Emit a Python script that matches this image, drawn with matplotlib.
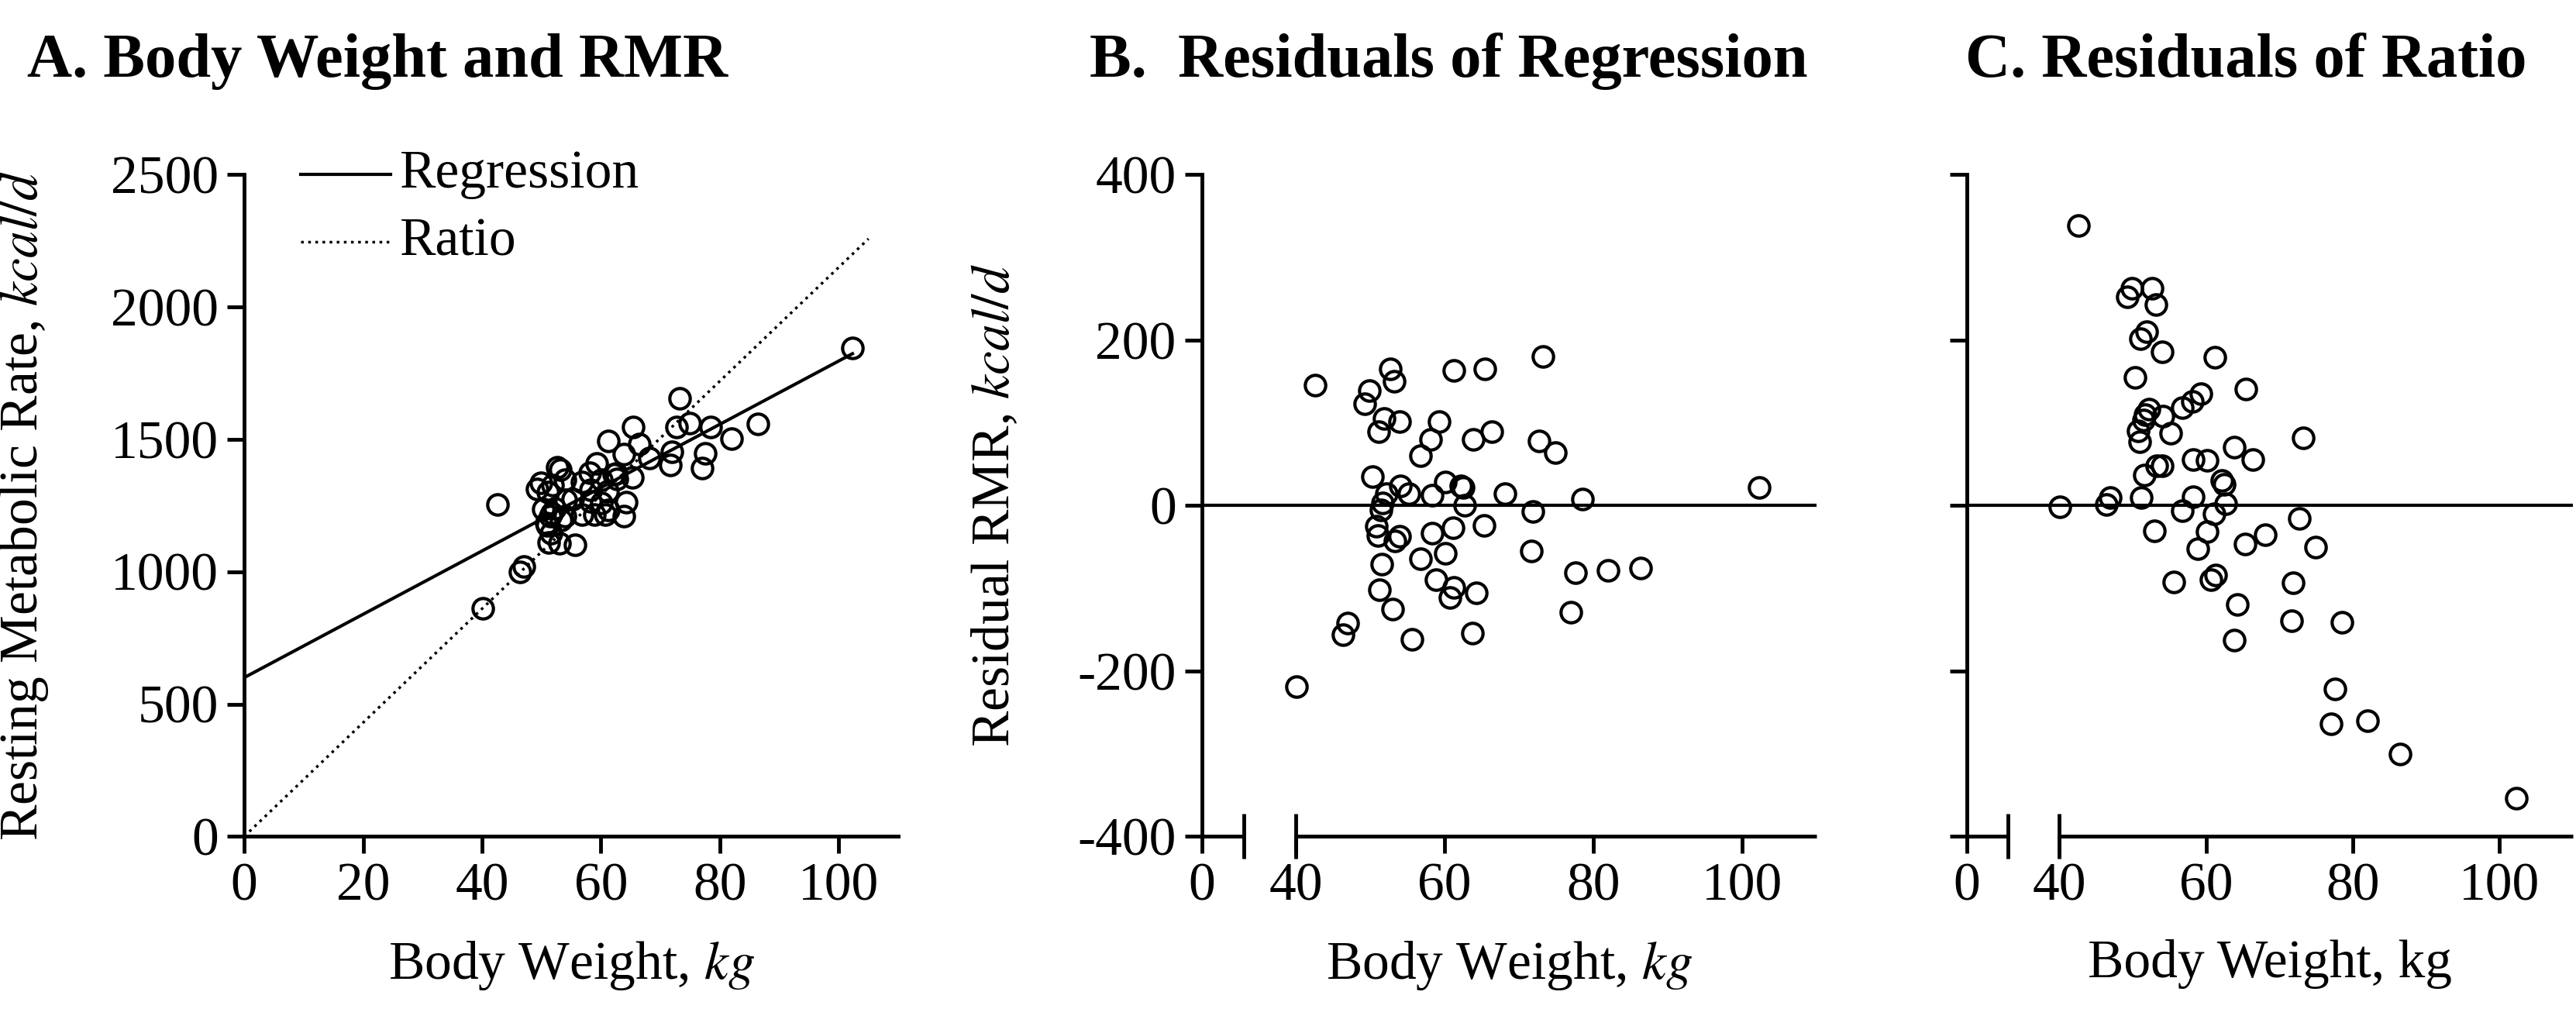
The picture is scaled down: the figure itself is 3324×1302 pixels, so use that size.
import matplotlib
matplotlib.use("Agg")
import matplotlib.pyplot as plt
import numpy as np

plt.rcParams['font.family'] = ['Liberation Serif', 'DejaVu Serif']
plt.rcParams['mathtext.fontset'] = 'stix'
plt.rcParams['axes.unicode_minus'] = False

# body weight (kg) and residual from regression (kcal/d)
weight = np.array([40.1, 42.6, 46.4, 47.0, 49.3, 49.9, 50.3, 51.1, 51.9, 51.2,
                   51.6, 50.8, 51.0, 51.5, 51.7, 52.2, 52.7, 53.2, 54.0, 53.0,
                   53.3, 54.0, 54.1, 55.2, 55.6, 56.8, 56.8, 58.1, 58.3, 58.3,
                   59.3, 58.9, 60.1, 61.2, 61.1, 60.1, 61.3, 60.7, 62.2, 62.5,
                   62.7, 63.9, 64.3, 63.8, 65.4, 65.3, 66.4, 68.1, 71.9, 71.7,
                   73.2, 72.7, 74.9, 77.6, 77.0, 78.5, 82.0, 86.4, 102.3])
resid_reg = np.array([-219, 145, -156, -142, 123, 139, 35, 89, 105, -102,
                      -71, -25, -36, -5, 3, 14, 165, 150, 101, -125,
                      -43, -37, 24, 14, -162, -64, 60, 80, 12, -33,
                      101, -90, 28, 163, -27, -58, -99, -111, 24, 22,
                      0, 80, -106, -154, 165, -24, 89, 14, -7, -55,
                      180, 78, 64, -81, -129, 8, -78, -76, 22])

reg_intercept = 600
reg_slope = 11.96
ratio_slope = 21.5

rmr = reg_intercept + reg_slope * weight + resid_reg
resid_ratio = rmr - ratio_slope * weight

fig = plt.figure(figsize=(33.24, 13.02), dpi=100)
bottom, height = 0.171, 0.656
axA = fig.add_axes([0.0948, bottom, 0.2539, height])
axB = fig.add_axes([0.4666, bottom, 0.2386, height])
axC = fig.add_axes([0.7635, bottom, 0.2353, height])

fs = 50
lw = 3.5
mk = dict(marker='o', linestyle='none', markersize=19, markerfacecolor='none',
          markeredgecolor='black', markeredgewidth=3, clip_on=False)


def style(ax):
    for s in ['top', 'right']:
        ax.spines[s].set_visible(False)
    for s in ['left', 'bottom']:
        ax.spines[s].set_linewidth(lw)
    ax.tick_params(direction='out', length=16, width=lw, labelsize=fs, pad=8)


# ---- Panel A
style(axA)
xr = np.array([0, 102.3])
axA.plot(xr, reg_intercept + reg_slope * xr, color='black', lw=3)
xq = np.array([0, 105])
axA.plot(xq, ratio_slope * xq, color='black', lw=2.5, linestyle=':')
axA.plot(weight, rmr, **mk)
axA.set_xlim(0, 110)
axA.set_ylim(0, 2500)
axA.set_xticks([0, 20, 40, 60, 80, 100])
axA.set_yticks([0, 500, 1000, 1500, 2000, 2500])
axA.set_xlabel('Body Weight, $\\it{kg}$', fontsize=fs)
axA.set_ylabel('Resting Metabolic Rate, $\\it{kcal/d}$', fontsize=fs)
axA.xaxis.set_label_coords(0.5, -0.155)
axA.yaxis.set_label_coords(-0.296, 0.5)
# legend
axA.plot([0.086, 0.224], [1.0, 1.0], transform=axA.transAxes, color='black', lw=3, clip_on=False)
axA.plot([0.086, 0.224], [0.898, 0.898], transform=axA.transAxes, color='black', lw=2.5,
         linestyle=':', clip_on=False)
axA.text(0.238, 1.0, 'Regression', transform=axA.transAxes, fontsize=fs, va='center')
axA.text(0.238, 0.898, 'Ratio', transform=axA.transAxes, fontsize=fs, va='center')

# ---- Panels B and C with broken x axis
x0 = 27.4
xbreak = 33.0


def broken(ax):
    style(ax)
    ax.spines['bottom'].set_visible(False)
    ax.set_xlim(x0, 110)
    ax.set_ylim(-400, 400)
    ax.axhline(0, color='black', lw=3)
    ax.plot([x0, xbreak], [-400, -400], color='black', lw=lw, clip_on=False, solid_capstyle='butt')
    ax.plot([40, 110], [-400, -400], color='black', lw=lw, clip_on=False, solid_capstyle='butt')
    ax.plot([xbreak, 40], [-400, -400], marker='|', linestyle='none', markersize=42,
            markeredgewidth=lw, color='black', clip_on=False)
    ax.set_xticks([x0, 40, 60, 80, 100])
    ax.set_xticklabels(['0', '40', '60', '80', '100'])
    ax.set_yticks([-400, -200, 0, 200, 400])
    ax.xaxis.set_label_coords(0.49, -0.155)


broken(axB)
axB.plot(weight, resid_reg, **mk)
axB.set_xlabel('Body Weight, $\\it{kg}$', fontsize=fs)
axB.set_ylabel('Residual RMR, $\\it{kcal/d}$', fontsize=fs)
axB.yaxis.set_label_coords(-0.295, 0.5)

broken(axC)
axC.plot(weight, resid_ratio, **mk)
axC.set_yticklabels([])
axC.set_xlabel('Body Weight, kg', fontsize=fs)

# titles
tfs = 58
fig.text(0.0105, 0.939, 'A. Body Weight and RMR', fontsize=tfs, fontweight='bold', va='center')
fig.text(0.423, 0.939, 'B.  Residuals of Regression', fontsize=tfs, fontweight='bold', va='center')
fig.text(0.763, 0.939, 'C. Residuals of Ratio', fontsize=tfs, fontweight='bold', va='center')

fig.savefig('out.png', dpi=100)
